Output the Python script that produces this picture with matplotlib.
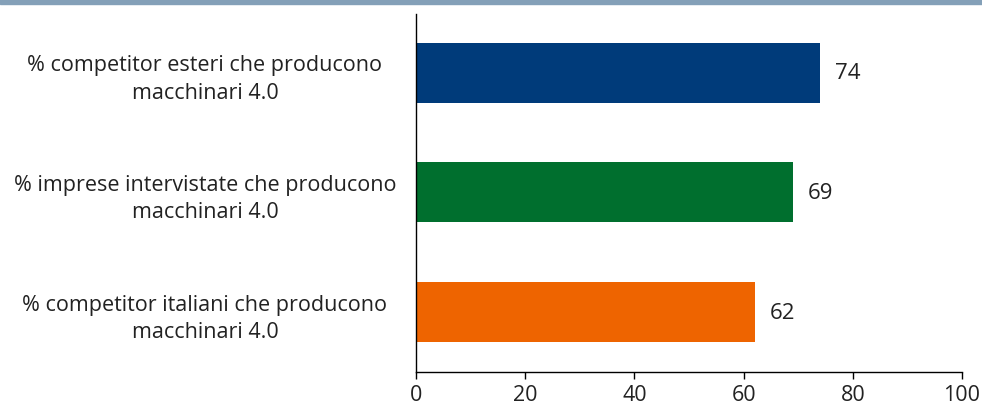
import matplotlib.pyplot as plt
from matplotlib.patches import Rectangle

categories = [
    "% competitor esteri che producono\nmacchinari 4.0",
    "% imprese intervistate che producono\nmacchinari 4.0",
    "% competitor italiani che producono\nmacchinari 4.0",
]
values = [74, 69, 62]
colors = ["#003B7A", "#006F2E", "#EE6400"]
xticks = [0, 20, 40, 60, 80, 100]

plt.rcParams["font.family"] = ["Open Sans", "DejaVu Sans"]

fig = plt.figure(figsize=(9.82, 4.10), dpi=100)
# header strip cut off at the top
fig.patches.append(Rectangle((0, 1 - 5 / 410), 1, 5 / 410, transform=fig.transFigure,
                             color="#84A0B8", zorder=0))

ax = fig.add_axes([416 / 982, 37 / 410, 546 / 982, 358 / 410])
pos = list(range(len(categories)))
ax.barh(pos, values, height=0.5, color=colors)
for p, v in zip(pos, values):
    ax.text(v + 2.8, p, str(v), va="center", ha="left", fontsize=16, color="#222222")

ax.set_ylim(2.5, -0.49)
ax.set_xlim(0, 100)
ax.set_xticks(xticks)
ax.set_xticklabels([str(t) for t in xticks], fontsize=15.5, color="#222222")
ax.set_yticks(pos)
ax.set_yticklabels(categories, fontsize=15.5, color="#222222", ha="center",
                   multialignment="center", linespacing=1.4)
ax.tick_params(axis="y", length=0, pad=152)
ax.tick_params(axis="x", length=5, width=1, direction="out", pad=4)
for s in ["top", "right"]:
    ax.spines[s].set_visible(False)
ax.spines["left"].set_linewidth(1)
ax.spines["bottom"].set_linewidth(1)

fig.savefig("out.png", dpi=100)
